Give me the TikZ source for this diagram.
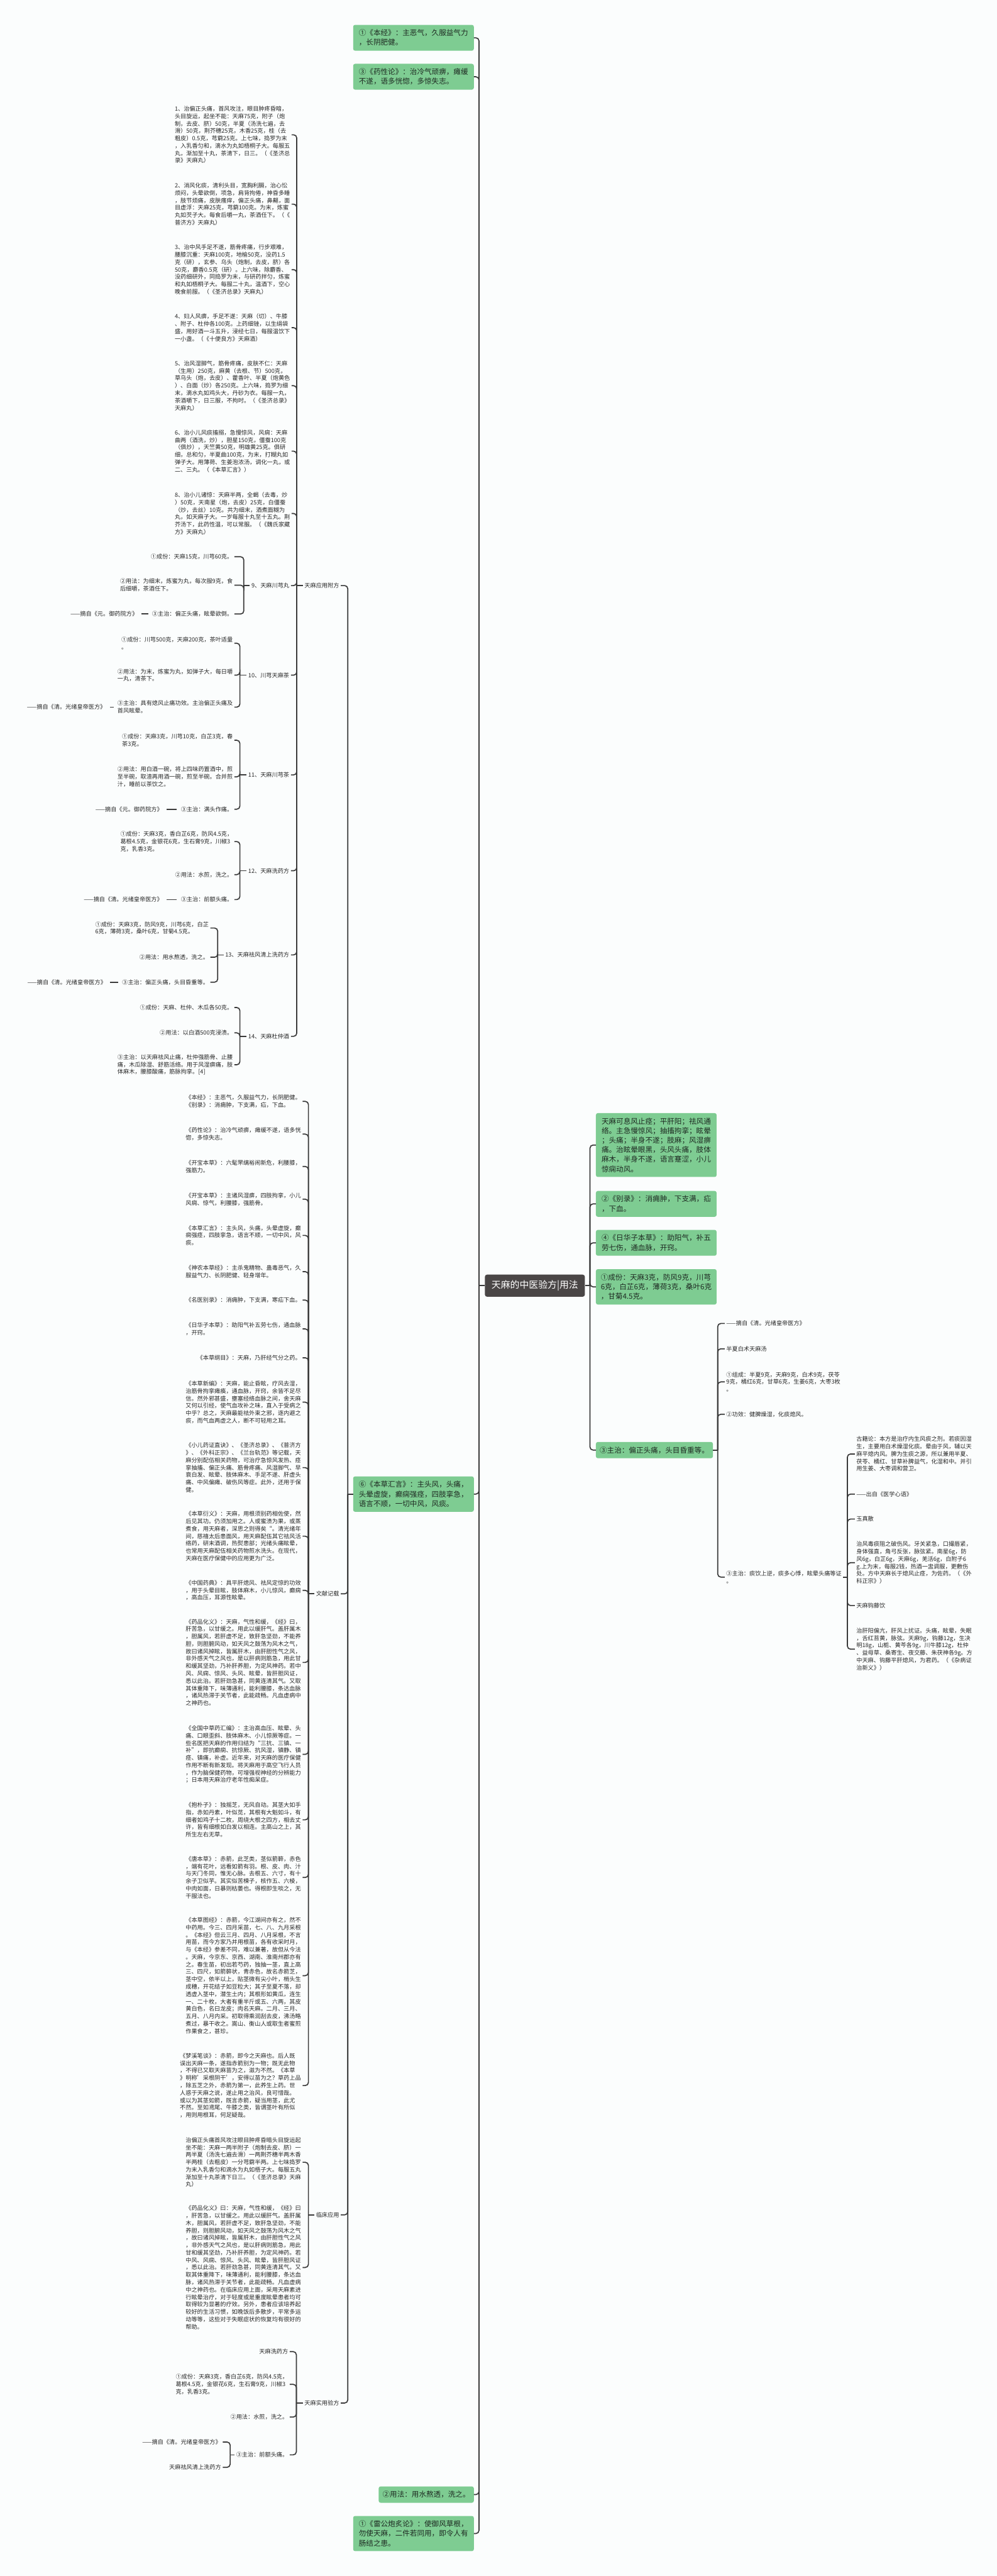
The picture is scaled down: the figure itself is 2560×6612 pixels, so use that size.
\documentclass[tikz,border=0pt]{standalone}
\usepackage{fontspec}
\setmainfont{Noto Sans CJK SC}
\definecolor{boxgreen}{RGB}{126,204,146}
\definecolor{boxink}{RGB}{30,42,34}
\definecolor{rootgray}{RGB}{74,70,70}
\definecolor{linegray}{RGB}{58,58,58}
\definecolor{inkgray}{RGB}{40,40,40}
\definecolor{bgcol}{RGB}{251,253,253}
\begin{document}
\begin{tikzpicture}[x=1pt,y=-1pt,
    link/.style={draw=linegray, line width=2.7pt, rounded corners=8pt},
    txt/.style={font=\fontsize{14.8}{19}\selectfont, text=inkgray, align=left, inner xsep=4pt, inner ysep=2pt},
    lefttxt/.style={txt, anchor=east},
    righttxt/.style={txt, anchor=west},
    gbox/.style={fill=boxgreen, rounded corners=5pt, font=\fontsize{18.7}{24.5}\selectfont, text=boxink, align=left, inner xsep=10pt, inner ysep=12pt},
    gwide/.style={gbox, minimum width=310pt},
    rootbox/.style={fill=rootgray, text=white, rounded corners=6pt, font=\fontsize{24}{28}\selectfont, minimum width=257pt, minimum height=57pt}]
    \useasboundingbox (0,0) rectangle (2560,6612);
    \fill[bgcol] (0,0) rectangle (2560,6612);

    % spines
    \coordinate (s0) at (1230,0);
    \coordinate (s1) at (1515,0);
    \coordinate (s2) at (1843,0);
    \coordinate (s3) at (2176,0);
    \coordinate (s4) at (893,0);
    \coordinate (s5) at (762,0);
    \coordinate (s6) at (792,0);
    \coordinate (s7) at (761,0);
    \coordinate (s8) at (591,0);
    \coordinate (s9a) at (626,0);
    \coordinate (s9b) at (616,0);
    \coordinate (s9c) at (559,0);

    % centre
    \node[rootbox] (root) at (1373.5,3300) {天麻的中医验方|用法};

    % green boxes on the left spine
    \node[gwide, anchor=east] (bkBenjing) at (1217,97) {①《本经》：主恶气，久服益气力\\，长阴肥健。};
    \node[gwide, anchor=east] (bkYaoxing) at (1217,197) {③《药性论》：治冷气顽痹，瘫缓\\不遂，语多恍惚，多惊失志。};
    \node[gwide, anchor=east] (bkHuiyan) at (1217,3835) {⑥《本草汇言》：主头风，头痛，\\头晕虚旋，癫痫强痉，四肢挛急，\\语言不顺，一切中风，风痰。};
    \node[gbox, anchor=east] (bkYongfa) at (1217,6403) {②用法：用水熬透，洗之。};
    \node[gwide, anchor=east] (bkLeigong) at (1217,6503) {①《雷公炮炙论》：使御风草根，\\勿使天麻，二件若同用，即令人有\\肠结之患。};

    % green boxes on the right spine
    \node[gwide, anchor=west] (gbA) at (1530,2939) {天麻可息风止痉；平肝阳；祛风通\\络。主急慢惊风；抽搐拘挛；眩晕\\；头痛；半身不遂；肢麻；风湿痹\\痛。治眩晕眼黑，头风头痛，肢体\\麻木，半身不遂，语言蹇涩，小儿\\惊痫动风。};
    \node[gwide, anchor=west] (gbB) at (1530,3090) {②《别录》：消痈肿，下支满，疝\\，下血。};
    \node[gwide, anchor=west] (gbC) at (1530,3190) {④《日华子本草》：助阳气，补五\\劳七伤，通血脉，开窍。};
    \node[gwide, anchor=west] (gbD) at (1530,3303) {①成份：天麻3克，防风9克，川芎\\6克，白芷6克，薄荷3克，桑叶6克\\，甘菊4.5克。};
    \node[gbox, anchor=west] (gbE) at (1530,3722) {③主治：偏正头痛，头目昏重等。};

    % children of the third box
    \node[righttxt] (e1) at (1861,3397) {——摘自《清。光绪皇帝医方》};
    \node[righttxt] (e2) at (1861,3462) {半夏白术天麻汤};
    \node[righttxt] (e3) at (1861,3547) {①组成：半夏9克，天麻9克，白术9克，茯苓\\9克，橘红6克，甘草6克，生姜6克，大枣3枚\\。};
    \node[righttxt] (e4) at (1861,3630) {②功效：健脾燥湿，化痰熄风。};
    \node[righttxt] (e5) at (1861,4048) {③主治：痰饮上逆，痰多心悸，眩晕头痛等证\\。};

    \node[righttxt] (f1) at (2195,3732) {古籍论：本方是治疗内生风痰之剂。若痰因湿\\生，主要用白术燥湿化痰。晕由于风，辅以天\\麻平熄内风。脾为生痰之源，所以兼用半夏、\\茯苓、橘红、甘草补脾益气，化湿和中。并引\\用生姜、大枣调和营卫。};
    \node[righttxt] (f2) at (2195,3835) {——出自《医学心语》};
    \node[righttxt] (f3) at (2195,3899) {玉真散};
    \node[righttxt] (f4) at (2195,4011) {治风毒痰阻之破伤风。牙关紧急，口撮唇紧，\\身体强直，角弓反张，脉弦紧。南星6g，防\\风6g，白芷6g，天麻6g，羌活6g，白附子6\\g.上为末，每服2钱，热酒一盅调服，更敷伤\\处。方中天麻长于熄风止痉，为佐药。（《外\\科正宗》）};
    \node[righttxt] (f5) at (2195,4121) {天麻钩藤饮};
    \node[righttxt] (f6) at (2195,4233) {治肝阳偏亢，肝风上扰证。头痛，眩晕，失眠\\，舌红苔黄，脉弦。天麻9g，钩藤12g，生决\\明18g，山栀、黄芩各9g，川牛膝12g，杜仲\\、益母草、桑寄生、夜交藤、朱茯神各9g。方\\中天麻、钩藤平肝熄风，为君药。（《杂病证\\治新义》）};

    % branches of the sixth box
    \node[lefttxt] (g1) at (875,1503) {天麻应用附方};
    \node[lefttxt] (g2) at (875,4091) {文献记载};
    \node[lefttxt] (g3) at (875,5685) {临床应用};
    \node[lefttxt] (g4) at (875,6168) {天麻实用验方};

    % recipes
    \node[lefttxt] (i1) at (749,346) {1、治偏正头痛，首风攻注，眼目肿疼昏暗，\\头目旋运，起坐不能：天麻75克，附子（炮\\制，去皮、脐）50克，半夏（汤洗七遍，去\\滑）50克，荆芥穗25克，木香25克，桂（去\\粗皮）0.5克，芎藭25克。上七味，捣罗为末\\，入乳香匀和，滴水为丸如梧桐子大。每服五\\丸，渐加至十丸，茶清下，日三。（《圣济总\\录》天麻丸）};
    \node[lefttxt] (i2) at (749,524) {2、消风化痰，清利头目，宽胸利膈，治心忪\\烦闷，头晕欲倒，项急，肩背拘倦，神昏多睡\\，肢节烦痛，皮肤瘙痒，偏正头痛，鼻齆，面\\目虚浮：天麻25克，芎藭100克。为末，炼蜜\\丸如芡子大。每食后嚼一丸，茶酒任下。（《\\普济方》天麻丸）};
    \node[lefttxt] (i3) at (749,692) {3、治中风手足不遂，筋骨疼痛，行步艰难，\\腰膝沉重：天麻100克，地榆50克，没药1.5\\克（研），玄参、乌头（炮制，去皮，脐）各\\50克，麝香0.5克（研）。上六味，除麝香、\\没药细研外，同捣罗为末，与研药拌匀，炼蜜\\和丸如梧桐子大。每服二十丸，温酒下，空心\\晚食前服。（《圣济总录》天麻丸）};
    \node[lefttxt] (i4) at (749,841) {4、妇人风痹，手足不遂：天麻（切）、牛膝\\、附子、杜仲各100克。上药细锉，以生绢袋\\盛，用好酒一斗五升，浸经七日，每服温饮下\\一小盏。（《十便良方》天麻酒）};
    \node[lefttxt] (i5) at (749,990) {5、治风湿脚气，筋骨疼痛，皮肤不仁：天麻\\（生用）250克，麻黄（去根、节）500克，\\草乌头（炮，去皮）、藿香叶、半夏（炮黄色\\）、白面（炒）各250克。上六味，捣罗为细\\末，滴水丸如鸡头大，丹砂为衣。每服一丸，\\茶酒嚼下，日三服，不拘时。（《圣济总录》\\天麻丸）};
    \node[lefttxt] (i6) at (749,1158) {6、治小儿风痰搐搦，急慢惊风，风痫：天麻\\曲两（酒洗，炒），胆星150克，僵蚕100克\\（俱炒），天竺黄50克，明雄黄25克。俱研\\细，总和匀，半夏曲100克，为末，打糊丸如\\弹子大。用薄荷、生姜泡浓汤，调化一丸，或\\二、三丸。（《本草汇言》）};
    \node[lefttxt] (i8) at (749,1318) {8、治小儿诸惊：天麻半两，全蝎（去毒，炒\\）50克，天南星（炮，去皮）25克，白僵蚕\\（炒，去丝）10克。共为细末，酒煮面糊为\\丸，如天麻子大。一岁每服十丸至十五丸。荆\\芥汤下，此药性温，可以常服。（《魏氏家藏\\方》天麻丸）};
    \node[lefttxt] (i9) at (747,1503) {9、天麻川芎丸};
    \node[lefttxt] (i10) at (747,1733) {10、川芎天麻茶};
    \node[lefttxt] (i11) at (747,1989) {11、天麻川芎茶};
    \node[lefttxt] (i12) at (747,2235) {12、天麻洗药方};
    \node[lefttxt] (i13) at (747,2451) {13、天麻祛风清上洗药方};
    \node[lefttxt] (i14) at (747,2660) {14、天麻杜仲酒};

    \node[lefttxt] (i9a) at (602,1429) {①成份：天麻15克，川芎60克。};
    \node[lefttxt] (i9b) at (602,1502) {②用法：为细末，炼蜜为丸，每次服9克，食\\后细嚼，茶酒任下。};
    \node[lefttxt] (i9c) at (602,1576) {③主治：偏正头痛，眩晕欲倒。};
    \node[lefttxt] (i9src) at (358,1576) {——摘自《元。御药院方》};

    \node[lefttxt] (i10a) at (602,1651) {①成份：川芎500克，天麻200克，茶叶适量\\。};
    \node[lefttxt] (i10b) at (602,1733) {②用法：为末，炼蜜为丸，如弹子大，每日嚼\\一丸，清茶下。};
    \node[lefttxt] (i10c) at (602,1815) {③主治：具有熄风止痛功效。主治偏正头痛及\\首风眩晕。};
    \node[lefttxt] (i10src) at (276,1815) {——摘自《清。光绪皇帝医方》};

    \node[lefttxt] (i11a) at (602,1900) {①成份：天麻3克，川芎10克，白芷3克，春\\茶3克。};
    \node[lefttxt] (i11b) at (602,1994) {②用法：用白酒一碗，将上四味药置酒中，煎\\至半碗，取渣再用酒一碗，煎至半碗。合并煎\\汁，睡前以茶饮之。};
    \node[lefttxt] (i11c) at (602,2077) {③主治：满头作痛。};
    \node[lefttxt] (i11src) at (422,2077) {——摘自《元。御药院方》};

    \node[lefttxt] (i12a) at (602,2160) {①成份：天麻3克，香白芷6克，防风4.5克，\\葛根4.5克，金银花6克，生石膏9克，川椒3\\克，乳香3克。};
    \node[lefttxt] (i12b) at (602,2245) {②用法：水煎，洗之。};
    \node[lefttxt] (i12c) at (602,2309) {③主治：前额头痛。};
    \node[lefttxt] (i12src) at (422,2309) {——摘自《清。光绪皇帝医方》};

    \node[lefttxt] (i13a) at (540,2382) {①成份：天麻3克，防风9克，川芎6克，白芷\\6克，薄荷3克，桑叶6克，甘菊4.5克。};
    \node[lefttxt] (i13b) at (540,2457) {②用法：用水熬透，洗之。};
    \node[lefttxt] (i13c) at (540,2521) {③主治：偏正头痛，头目昏重等。};
    \node[lefttxt] (i13src) at (277,2521) {——摘自《清。光绪皇帝医方》};

    \node[lefttxt] (i14a) at (602,2586) {①成份：天麻、杜仲、木瓜各50克。};
    \node[lefttxt] (i14b) at (602,2651) {②用法：以白酒500克浸渍。};
    \node[lefttxt] (i14c) at (602,2733) {③主治：以天麻祛风止痛，杜仲强筋骨、止腰\\痛，木瓜除湿、舒筋活络。用于风湿痹痛，肢\\体麻木，腰膝酸痛，筋脉拘挛。[4]};

    % records
    \node[lefttxt] (w1) at (777,2827) {《本经》：主恶气，久服益气力，长阴肥健。\\《别录》：消痈肿，下支满，疝，下血。};
    \node[lefttxt] (w2) at (777,2911) {《药性论》：治冷气顽痹，瘫缓不遂，语多恍\\惚，多惊失志。};
    \node[lefttxt] (w3) at (777,2994) {《开宝本草》：六髦罘缡裕闹新危，利腰膝，\\强筋力。};
    \node[lefttxt] (w4) at (777,3078) {《开宝本草》：主诸风湿痹，四肢拘挛，小儿\\风痫、惊气，利腰膝，强筋骨。};
    \node[lefttxt] (w5) at (777,3171) {《本草汇言》：主头风，头痛，头晕虚旋，癫\\痫强痉，四肢挛急，语言不顺，一切中风，风\\痰。};
    \node[lefttxt] (w6) at (777,3264) {《神农本草经》：主杀鬼精物、蛊毒恶气，久\\服益气力、长阴肥健、轻身增年。};
    \node[lefttxt] (w7) at (777,3337) {《名医别录》：消痈肿，下支满，寒疝下血。};
    \node[lefttxt] (w8) at (777,3411) {《日华子本草》：助阳气补五劳七伤，通血脉\\，开窍。};
    \node[lefttxt] (w9) at (777,3485) {《本草纲目》：天麻，乃肝经气分之药。};
    \node[lefttxt] (w10) at (777,3599) {《本草新编》：天麻，能止昏眩，疗风去湿，\\治筋骨拘挛瘫痪，通血脉，开窍，余皆不足尽\\信。然外邪甚盛，壅塞经络血脉之间，舍天麻\\又何以引经，使气血攻补之味，直入于受病之\\中乎？总之，天麻最能祛外束之邪，逐内避之\\痰，而气血两虚之人，断不可轻用之耳。};
    \node[lefttxt] (w11) at (777,3767) {《小儿药证直诀》、《圣济总录》、《普济方\\》、《外科正宗》、《兰台轨范》等记载，天\\麻分别配伍相关药物，可治疗急惊风发热、痉\\挛抽搐、偏正头痛、筋骨疼痛、风湿脚气、早\\衰白发、眩晕、肢体麻木、手足不遂、肝虚头\\痛、中风偏瘫、破伤风等症。此外，还用于保\\健。};
    \node[lefttxt] (w12) at (777,3943) {《本草衍义》：天麻，用根须别药相佐使，然\\后见其功。仍须加用之。人或蜜渍为果，或蒸\\煮食，用天麻者，深思之则得矣“。清光绪年\\间，慈禧太后患面风，用天麻配伍其它祛风活\\络药，研末酒调，热熨患部；光绪头痛眩晕，\\也常用天麻配伍相关药物煎水洗头。在现代，\\天麻在医疗保健中的应用更为广泛。};
    \node[lefttxt] (w13) at (777,4082) {《中国药典》：具平肝熄风、祛风定惊的功效\\，用于头晕目眩，肢体麻木，小儿惊风，癫痫\\，高血压，耳源性眩晕。};
    \node[lefttxt] (w14) at (777,4267) {《药品化义》：天麻，气性和缓，《经》曰，\\肝苦急，以甘缓之。用此以缓肝气。盖肝属木\\，胆属风，若肝虚不足，致肝急坚劲，不能养\\胆，则胆腑风动，如天风之鼓荡为风木之气，\\故曰诸风掉眩，皆属肝木，由肝胆性气之风，\\非外感天气之风也，是以肝病则筋急，用此甘\\和缓其坚劲，乃补肝养胆，为定风神药。若中\\风、风痫、惊风、头风、眩晕，皆肝胆风证，\\悉以此治。若肝劲急甚，同黄连清其气。又取\\其体重降下，味薄通利，能利腰膝，条达血脉\\，诸风热滞于关节者，此能疏畅。凡血虚病中\\之神药也。};
    \node[lefttxt] (w15) at (777,4503) {《全国中草药汇编》：主治高血压、眩晕、头\\痛、口眼歪斜、肢体麻木、小儿惊厥等症。一\\些名医把天麻的作用归结为“三抗、三镇、一\\补”，即抗癫痫、抗惊厥、抗风湿，镇静、镇\\痉、镇痛，补虚。近年来，对天麻的医疗保健\\作用不断有新发现。将天麻用于高空飞行人员\\，作为脑保健药物，可增强视神经的分辨能力\\；日本用天麻治疗老年性痴呆症。};
    \node[lefttxt] (w16) at (777,4671) {《抱朴子》：独摇芝，无风自动。其茎大如手\\指，赤如丹素，叶似苋，其根有大魁如斗，有\\细者如鸡子十二枚，周绕大根之四方，相去丈\\许，皆有细根如白发以相连。主高山之上，其\\所生左右无草。};
    \node[lefttxt] (w17) at (777,4819) {《唐本草》：赤箭，此芝类，茎似箭簳，赤色\\，端有花叶，远看如箭有羽。根、皮、肉、汁\\与天门冬同，惟无心脉。去根五、六寸，有十\\余子卫似芋。其实似苦楝子，核作五、六棱，\\中肉如面，日暴则枯萎也。得根即生啖之，无\\干服法也。};
    \node[lefttxt] (w18) at (777,5071) {《本草图经》：赤箭，今江湖间亦有之，然不\\中药用。今三、四月采苗，七、八、九月采根\\。《本经》但云三月、四月、八月采根，不言\\用苗，而今方家乃并用根苗，各有收采时月，\\与《本经》参差不同，难以兼著，故但从今法\\。天麻，今京东、京西、湖南、淮南州郡亦有\\之。春生苗，初出若芍药，独抽一茎，直上高\\三、四尺，如箭簳状，青赤色，故名赤箭芝，\\茎中空，依半以上，贴茎微有尖小叶，梢头生\\成穗，开花结子如豆粒大；其子至夏不落，却\\透虚入茎中，潜生土内；其根形如黄瓜，连生\\一、二十枚，大者有重半斤或五、六两，其皮\\黄白色，名曰龙皮；肉名天麻。二月、三月、\\五月、八月内采。初取得乘润刮去皮，沸汤略\\煮过，暴干收之。嵩山、衡山人或取生者蜜煎\\作果食之，甚珍。};
    \node[lefttxt] (w19) at (777,5353) {《梦溪笔谈》：赤箭，即今之天麻也。后人既\\误出天麻一条，遂指赤箭别为一物；既无此物\\，不得已又取天麻苗为之，滋为不然。《本草\\》明称'采根阴干'，安得以苗为之？草药上品\\，除五芝之外，赤箭为第一，此养生上药。世\\人惑于天麻之说，遂止用之治风，良可惜哉。\\或以为其茎如箭，既言赤箭，疑当用茎，此尤\\不然。至如鸢尾、牛膝之类，皆谓茎叶有所似\\，用则用根耳，何足疑哉。};

    % clinical use
    \node[lefttxt] (c1) at (777,5550) {治偏正头痛首风攻注眼目肿疼昏暗头目旋运起\\坐不能：天麻一两半附子（炮制去皮、脐）一\\两半夏（汤洗七遍去滑）一两荆芥穗半两木香\\半两桂（去粗皮）一分芎藭半两。上七味捣罗\\为末入乳香匀和滴水为丸如梧子大。每服五丸\\渐加至十丸茶清下日三。（《圣济总录》天麻\\丸）};
    \node[lefttxt] (c2) at (777,5820) {《药品化义》曰：天麻，气性和缓，《经》曰\\，肝苦急，以甘缓之。用此以缓肝气。盖肝属\\木，胆属风，若肝虚不足，致肝急坚劲，不能\\养胆，则胆腑风动，如天风之鼓荡为风木之气\\，故曰诸风掉眩，皆属肝木，由肝胆性气之风\\，非外感天气之风也，是以肝病则筋急，用此\\甘和缓其坚劲，乃补肝养胆，为定风神药。若\\中风、风痫、惊风、头风、眩晕，皆肝胆风证\\，悉以此治。若肝劲急甚，同黄连清其气。又\\取其体重降下，味薄通利，能利腰膝，条达血\\脉，诸风热滞于关节者，此能疏畅。凡血虚病\\中之神药也。在临床应用上面，采用天麻素进\\行眩晕治疗，对于轻度或是重度眩晕患者均可\\取得较为显著的疗效。另外，患者应该培养起\\较好的生活习惯，如晚饭后多散步，平常多运\\动等等，这些对于失眠症状的恢复均有很好的\\帮助。};

    % practical recipes
    \node[lefttxt] (t1) at (744,6036) {天麻洗药方};
    \node[lefttxt] (t2) at (744,6120) {①成份：天麻3克，香白芷6克，防风4.5克，\\葛根4.5克，金银花6克，生石膏9克，川椒3\\克，乳香3克。};
    \node[lefttxt] (t3) at (744,6204) {②用法：水煎，洗之。};
    \node[lefttxt] (t4) at (744,6301) {③主治：前额头痛。};
    \node[lefttxt] (t4a) at (572,6268) {——摘自《清。光绪皇帝医方》};
    \node[lefttxt] (t4b) at (572,6333) {天麻祛风清上洗药方};

    % connectors from the centre
    \draw[link] (root.west) -- (root.west -| s0);
    \foreach \c in {bkBenjing,bkYaoxing,bkHuiyan,bkYongfa,bkLeigong}
        \draw[link] (root.west -| s0) |- (\c.east);
    \draw[link] (root.east) -- (root.east -| s1);
    \foreach \c in {gbA,gbB,gbC,gbD,gbE}
        \draw[link] (root.east -| s1) |- (\c.west);

    % right side branches
    \draw[link] (gbE.east) -- (gbE.east -| s2);
    \foreach \c in {e1,e2,e3,e4,e5}
        \draw[link] (gbE.east -| s2) |- (\c.west);
    \draw[link] (e5.east) -- (e5.east -| s3);
    \foreach \c in {f1,f2,f3,f4,f5,f6}
        \draw[link] (e5.east -| s3) |- (\c.west);

    % left side branches
    \draw[link] (bkHuiyan.west) -- (bkHuiyan.west -| s4);
    \foreach \c in {g1,g2,g3,g4}
        \draw[link] (bkHuiyan.west -| s4) |- (\c.east);
    \foreach \p/\s/\cs in {g1/s5/{i1,i2,i3,i4,i5,i6,i8,i9,i10,i11,i12,i13,i14},
            g2/s6/{w1,w2,w3,w4,w5,w6,w7,w8,w9,w10,w11,w12,w13,w14,w15,w16,w17,w18,w19},
            g3/s6/{c1,c2}, g4/s7/{t1,t2,t3,t4}, t4/s8/{t4a,t4b},
            i9/s9a/{i9a,i9b,i9c}, i10/s9b/{i10a,i10b,i10c}, i11/s9b/{i11a,i11b,i11c},
            i12/s9b/{i12a,i12b,i12c}, i13/s9c/{i13a,i13b,i13c}, i14/s9b/{i14a,i14b,i14c}} {
        \draw[link] (\p.west) -- (\p.west -| \s);
        \foreach \c in \cs
            \draw[link] (\p.west -| \s) |- (\c.east);
    }

    % sources
    \foreach \a/\b in {i9c/i9src, i10c/i10src, i11c/i11src, i12c/i12src, i13c/i13src}
        \draw[link, shorten <=6pt, shorten >=6pt] (\a.west) -- (\b.east);
\end{tikzpicture}
\end{document}
